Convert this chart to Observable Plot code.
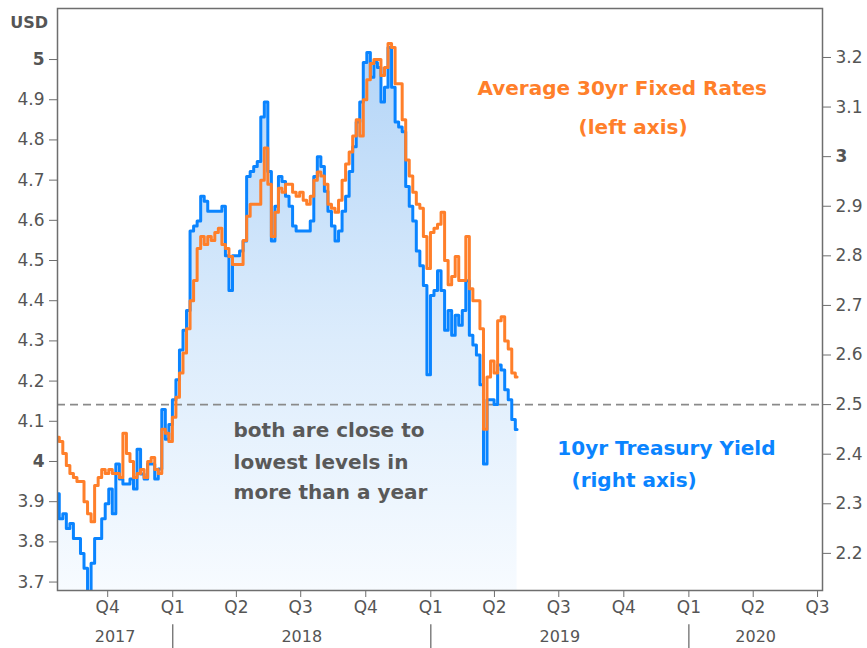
<!DOCTYPE html>
<html><head><meta charset="utf-8">
<script src="https://cdn.jsdelivr.net/npm/d3@7"></script>
<script src="https://cdn.jsdelivr.net/npm/@observablehq/plot@0.6"></script>
<style>
body{margin:0;background:#fff;}
#chart svg{display:block;}
</style></head><body><div id="chart"></div>
<script>
// ---- data ----
const dates = [
"2017-07-22","2017-07-27","2017-08-01","2017-08-06","2017-08-11","2017-08-16","2017-08-21","2017-08-26","2017-08-31","2017-09-05",
"2017-09-10","2017-09-15","2017-09-20","2017-09-25","2017-09-30","2017-10-05","2017-10-10","2017-10-15","2017-10-20","2017-10-25",
"2017-10-30","2017-11-04","2017-11-09","2017-11-14","2017-11-19","2017-11-24","2017-11-29","2017-12-04","2017-12-09","2017-12-14",
"2017-12-19","2017-12-24","2017-12-29","2018-01-03","2018-01-08","2018-01-13","2018-01-18","2018-01-23","2018-01-28","2018-02-02",
"2018-02-07","2018-02-12","2018-02-17","2018-02-22","2018-02-27","2018-03-04","2018-03-09","2018-03-14","2018-03-19","2018-03-24",
"2018-03-29","2018-04-03","2018-04-08","2018-04-13","2018-04-18","2018-04-23","2018-04-28","2018-05-03","2018-05-08","2018-05-13",
"2018-05-18","2018-05-23","2018-05-28","2018-06-02","2018-06-07","2018-06-12","2018-06-17","2018-06-22","2018-06-27","2018-07-02",
"2018-07-07","2018-07-12","2018-07-17","2018-07-22","2018-07-27","2018-08-01","2018-08-06","2018-08-11","2018-08-16","2018-08-21",
"2018-08-26","2018-08-31","2018-09-05","2018-09-10","2018-09-15","2018-09-20","2018-09-25","2018-09-30","2018-10-05","2018-10-10",
"2018-10-15","2018-10-20","2018-10-25","2018-10-30","2018-11-04","2018-11-09","2018-11-14","2018-11-19","2018-11-24","2018-11-29",
"2018-12-04","2018-12-09","2018-12-14","2018-12-19","2018-12-24","2018-12-29","2019-01-03","2019-01-08","2019-01-13","2019-01-18",
"2019-01-23","2019-01-28","2019-02-02","2019-02-07","2019-02-12","2019-02-17","2019-02-22","2019-02-27","2019-03-04","2019-03-09",
"2019-03-14","2019-03-19","2019-03-24","2019-03-29","2019-04-03","2019-04-08","2019-04-13","2019-04-18","2019-04-23","2019-04-28",
"2019-05-03"];

// Average 30yr fixed mortgage rate (left axis, %)
const mortgage = [
4.06,4.05,4.02,3.99,3.97,3.96,3.95,3.95,3.90,3.87,
3.85,3.94,3.96,3.98,3.97,3.98,3.97,3.97,3.96,4.07,
4.02,4.00,3.96,3.97,3.98,3.96,4.00,4.01,3.98,3.97,
4.08,4.07,4.05,4.11,4.16,4.22,4.27,4.33,4.40,4.45,
4.53,4.56,4.54,4.56,4.55,4.57,4.58,4.54,4.53,4.51,
4.49,4.49,4.49,4.55,4.61,4.64,4.64,4.64,4.70,4.78,
4.69,4.56,4.62,4.68,4.67,4.69,4.69,4.67,4.66,4.67,
4.65,4.64,4.66,4.70,4.72,4.71,4.69,4.64,4.63,4.62,
4.65,4.70,4.74,4.77,4.81,4.85,4.81,4.90,4.95,4.99,
5.00,5.00,4.96,4.98,5.04,5.03,4.94,4.94,4.85,4.75,
4.71,4.67,4.64,4.63,4.56,4.48,4.57,4.58,4.59,4.62,
4.50,4.44,4.46,4.51,4.45,4.45,4.56,4.43,4.40,4.40,
4.33,4.08,4.21,4.25,4.22,4.35,4.36,4.30,4.28,4.22,
4.21];

// 10yr Treasury yield (right axis, %)
const treasury = [
2.32,2.27,2.28,2.25,2.26,2.23,2.23,2.20,2.17,2.06,
2.18,2.23,2.23,2.27,2.30,2.33,2.28,2.38,2.35,2.34,
2.34,2.35,2.33,2.41,2.36,2.35,2.38,2.38,2.35,2.37,
2.49,2.43,2.46,2.51,2.55,2.61,2.65,2.69,2.85,2.86,
2.87,2.92,2.91,2.89,2.89,2.89,2.89,2.90,2.80,2.73,
2.80,2.80,2.81,2.83,2.96,2.97,2.98,2.99,3.08,3.11,
2.97,2.83,2.90,2.96,2.95,2.92,2.90,2.86,2.85,2.85,
2.85,2.85,2.87,2.96,3.00,2.98,2.93,2.89,2.86,2.83,
2.85,2.89,2.92,2.97,3.02,3.07,3.11,3.19,3.21,3.16,
3.19,3.18,3.11,3.14,3.22,3.14,3.07,3.06,3.05,2.94,
2.90,2.87,2.81,2.78,2.74,2.56,2.72,2.73,2.77,2.73,
2.65,2.69,2.64,2.68,2.66,2.69,2.75,2.64,2.62,2.60,
2.54,2.38,2.51,2.51,2.50,2.58,2.57,2.53,2.51,2.47,
2.45];

const leftTicks = [3.7,3.8,3.9,4,4.1,4.2,4.3,4.4,4.5,4.6,4.7,4.8,4.9,5];
const rightTicks = [2.2,2.3,2.4,2.5,2.6,2.7,2.8,2.9,3,3.1,3.2];
const quarterTicks = ["2017-10-01","2018-01-01","2018-04-01","2018-07-01","2018-10-01","2019-01-01","2019-04-01","2019-07-01","2019-10-01","2020-01-01","2020-04-01","2020-07-01"];
const yearLabels = ["2017","2018","2019","2020"];
const yearStarts = ["2018-01-01","2019-01-01","2020-01-01"];
const referenceYield = [2.5];

const noteTexts = ["Average 30yr Fixed Rates","(left axis)","10yr Treasury Yield","(right axis)","both are close to","lowest levels in","more than a year"];

// ---- layout / styling ----
const xDomain = [new Date("2017-07-22"), new Date("2020-07-08")];
const yDomain = [3.679, 5.127];
const rightToLeft = r => 1.057 + 1.2338 * r;   // right-axis value expressed in left-axis units
const ORANGE = "#ff7f2a", BLUE = "#0a84ff", GRAY = "#595959";

const rows = dates.map((d, i) => ({date: new Date(d), mortgage: mortgage[i], treasury: treasury[i]}));

const notePos = [
  {date:"2019-03-08", v:4.928, c:ORANGE},
  {date:"2019-07-29", v:4.831, c:ORANGE},
  {date:"2019-06-29", v:4.032, c:BLUE},
  {date:"2019-07-19", v:3.953, c:BLUE},
  {date:"2018-03-28", v:4.077, c:GRAY},
  {date:"2018-03-28", v:3.998, c:GRAY},
  {date:"2018-03-28", v:3.923, c:GRAY}
];
const notes = noteTexts.map((t, i) => ({text:t, date:new Date(notePos[i].date), v:notePos[i].v, c:notePos[i].c}));

const yearMid = yearLabels.map(y => {
  const a = Math.max(+new Date(`${y}-01-01`), +xDomain[0]);
  const b = Math.min(+new Date(`${+y + 1}-01-01`), +xDomain[1]);
  return {year: y, date: new Date((a + b) / 2)};
});

const quarterOf = d => "Q" + (Math.floor(d.getUTCMonth() / 3) + 1);

const plot = Plot.plot({
  width: 867,
  height: 648,
  marginLeft: 57,
  marginRight: 45,
  marginTop: 8,
  marginBottom: 58,
  style: {fontFamily: "'DejaVu Sans', sans-serif", fontSize: "17px", color: "#555", background: "#fff"},
  x: {type: "utc", domain: xDomain, label: null},
  y: {domain: yDomain, label: null},
  marks: [
    Plot.areaY(rows, {x: "date", y1: yDomain[0], y2: d => rightToLeft(d.treasury), fill: "url(#blueFade)", curve: "step", clip: true}),
    Plot.ruleY(referenceYield.map(rightToLeft), {stroke: "#8a8a8a", strokeWidth: 1.6, strokeDasharray: "8,5"}),
    Plot.lineY(rows, {x: "date", y: d => rightToLeft(d.treasury), stroke: BLUE, strokeWidth: 3, curve: "step", clip: true}),
    Plot.lineY(rows, {x: "date", y: "mortgage", stroke: ORANGE, strokeWidth: 3, curve: "step", clip: true}),
    Plot.frame({stroke: "#6e6e6e", strokeWidth: 1.5}),
    Plot.axisY(leftTicks, {anchor: "left", tickSize: 8, tickPadding: 5, stroke: "#6e6e6e", fill: "#555", fontSize: 17,
      tickFormat: d => String(d)}),
    Plot.axisY(rightTicks.map(rightToLeft), {anchor: "right", tickSize: 8, tickPadding: 5, stroke: "#6e6e6e", fill: "#555", fontSize: 17,
      tickFormat: d => String(rightTicks.find(r => Math.abs(rightToLeft(r) - d) < 1e-9))}),
    Plot.axisX(quarterTicks.map(d => new Date(d)), {anchor: "bottom", tickSize: 7, tickPadding: 3, stroke: "#6e6e6e", fill: "#555", fontSize: 17, tickFormat: quarterOf}),
    Plot.text(yearMid, {x: "date", y: 3.563, text: "year", fill: "#555", fontSize: 16}),
    Plot.ruleX(yearStarts.map(d => new Date(d)), {y1: 3.594, y2: 3.535, stroke: "#6e6e6e", strokeWidth: 1.3}),
    Plot.text(["USD"], {x: new Date("2017-06-12"), y: 5.092, text: d => d, fontWeight: "bold", fill: "#555", fontSize: 16}),
    Plot.text(notes, {x: "date", y: "v", text: "text", fill: "c", textAnchor: "start", lineAnchor: "middle", fontWeight: "bold", fontSize: 20})
  ]
});

// gradient used by the area fill
const svg = d3.select(plot);
const defs = svg.insert("defs", ":first-child");
const grad = defs.append("linearGradient").attr("id", "blueFade")
  .attr("gradientUnits", "userSpaceOnUse").attr("x1", 0).attr("x2", 0).attr("y1", 35).attr("y2", 590);
grad.append("stop").attr("offset", "0%").attr("stop-color", "#b2d4f7");
grad.append("stop").attr("offset", "55%").attr("stop-color", "#dcecfc");
grad.append("stop").attr("offset", "100%").attr("stop-color", "#f7fbff");

// integer tick labels are bold in the reference
svg.selectAll('g[aria-label="y-axis tick label"] text').each(function() {
  const t = this.textContent;
  if (t === "5" || t === "4" || t === "3") d3.select(this).attr("font-weight", "bold");
});

document.getElementById("chart").appendChild(plot);
</script>
</body></html>
